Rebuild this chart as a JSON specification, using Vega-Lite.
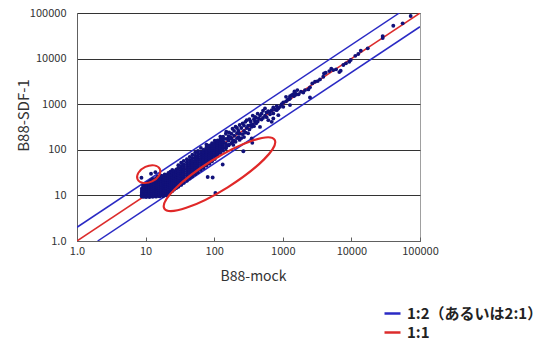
{
"$schema": "https://vega.github.io/schema/vega-lite/v6.json",
"width": 343, "height": 228,
"autosize": {"type": "none"},
"padding": {"left": 77, "top": 13, "right": 126, "bottom": 103},
"background": "white",
"config": {"view": {"stroke": "#a0a0a0", "strokeWidth": 1}, "font": "Noto Sans CJK JP"},
"datasets": {
"lines": [
{"x":1,"y":2,"line":"a","label":"1:2（あるいは2:1）"},{"x":50000,"y":100000,"line":"a","label":"1:2（あるいは2:1）"},
{"x":2,"y":1,"line":"b","label":"1:2（あるいは2:1）"},{"x":100000,"y":50000,"line":"b","label":"1:2（あるいは2:1）"},
{"x":1,"y":1,"line":"c","label":"1:1"},{"x":100000,"y":100000,"line":"c","label":"1:1"}
],
"big": [{"x":119.4,"y":29.2}],
"small": [{"x":11.1,"y":29.2}],
"pts": [
{"x":8.8,"y":9.5},{"x":8.8,"y":10.5},{"x":8.8,"y":11.5},{"x":8.8,"y":12.5},{"x":8.8,"y":14},
{"x":9.2,"y":9.3},{"x":9.2,"y":10},{"x":9.2,"y":11},{"x":9.2,"y":12},{"x":9.2,"y":13},{"x":9.2,"y":15},{"x":9.2,"y":16.5},
{"x":9.7,"y":9.4},{"x":9.7,"y":10.2},{"x":9.7,"y":11.3},{"x":9.7,"y":12.4},{"x":9.7,"y":13.6},{"x":9.7,"y":15},{"x":9.7,"y":17},
{"x":10.2,"y":9.2},{"x":10.2,"y":10},{"x":10.2,"y":10.8},{"x":10.2,"y":11.8},{"x":10.2,"y":13},{"x":10.2,"y":14.3},{"x":10.2,"y":15.8},{"x":10.2,"y":18},
{"x":10.8,"y":9.5},{"x":10.8,"y":10.4},{"x":10.8,"y":11.4},{"x":10.8,"y":12.6},{"x":10.8,"y":13.8},{"x":10.8,"y":15.2},{"x":10.8,"y":17},{"x":10.8,"y":19},
{"x":11.4,"y":9.2},{"x":11.4,"y":10.1},{"x":11.4,"y":11},{"x":11.4,"y":12},{"x":11.4,"y":13.3},{"x":11.4,"y":14.6},{"x":11.4,"y":16},{"x":11.4,"y":18},{"x":11.4,"y":20},
{"x":12,"y":9.6},{"x":12,"y":10.5},{"x":12,"y":11.6},{"x":12,"y":12.8},{"x":12,"y":14},{"x":12,"y":15.5},{"x":12,"y":17.2},{"x":12,"y":19.5},{"x":12,"y":21.5},
{"x":12.7,"y":9.3},{"x":12.7,"y":10.2},{"x":12.7,"y":11.3},{"x":12.7,"y":12.4},{"x":12.7,"y":13.7},{"x":12.7,"y":15},{"x":12.7,"y":16.6},{"x":12.7,"y":18.4},{"x":12.7,"y":20.5},{"x":12.7,"y":23},
{"x":13.4,"y":9.7},{"x":13.4,"y":10.7},{"x":13.4,"y":11.8},{"x":13.4,"y":13},{"x":13.4,"y":14.4},{"x":13.4,"y":16},{"x":13.4,"y":17.7},{"x":13.4,"y":19.7},{"x":13.4,"y":22},
{"x":14.2,"y":9.4},{"x":14.2,"y":10.3},{"x":14.2,"y":11.4},{"x":14.2,"y":12.6},{"x":14.2,"y":14},{"x":14.2,"y":15.4},{"x":14.2,"y":17},{"x":14.2,"y":19},{"x":14.2,"y":21},{"x":14.2,"y":24},
{"x":15,"y":9.8},{"x":15,"y":10.8},{"x":15,"y":12},{"x":15,"y":13.2},{"x":15,"y":14.6},{"x":15,"y":16.2},{"x":15,"y":18},{"x":15,"y":20},{"x":15,"y":22.5},{"x":15,"y":26},
{"x":16,"y":9.5},{"x":16,"y":10.5},{"x":16,"y":11.7},{"x":16,"y":13},{"x":16,"y":14.5},{"x":16,"y":16},{"x":16,"y":17.8},{"x":16,"y":19.7},{"x":16,"y":22},{"x":16,"y":25},
{"x":17,"y":10},{"x":17,"y":11.2},{"x":17,"y":12.5},{"x":17,"y":13.9},{"x":17,"y":15.4},{"x":17,"y":17},{"x":17,"y":19},{"x":17,"y":21},{"x":17,"y":23.5},{"x":17,"y":27},
{"x":18,"y":9.6},{"x":18,"y":10.8},{"x":18,"y":12},{"x":18,"y":13.5},{"x":18,"y":15},{"x":18,"y":16.8},{"x":18,"y":18.6},{"x":18,"y":20.8},{"x":18,"y":23},{"x":18,"y":26},
{"x":19,"y":10.4},{"x":19,"y":11.6},{"x":19,"y":13},{"x":19,"y":14.5},{"x":19,"y":16.2},{"x":19,"y":18},{"x":19,"y":20},{"x":19,"y":22.3},{"x":19,"y":25},{"x":19,"y":29},
{"x":20,"y":10},{"x":20,"y":11.4},{"x":20,"y":12.8},{"x":20,"y":14.3},{"x":20,"y":16},{"x":20,"y":17.8},{"x":20,"y":19.8},{"x":20,"y":22},{"x":20,"y":24.5},{"x":20,"y":28},
{"x":21.5,"y":11},{"x":21.5,"y":12.5},{"x":21.5,"y":14},{"x":21.5,"y":15.7},{"x":21.5,"y":17.5},{"x":21.5,"y":19.5},{"x":21.5,"y":21.7},{"x":21.5,"y":24},{"x":21.5,"y":27},{"x":21.5,"y":31},
{"x":23,"y":11.8},{"x":23,"y":13.3},{"x":23,"y":15},{"x":23,"y":16.8},{"x":23,"y":18.7},{"x":23,"y":20.8},{"x":23,"y":23},{"x":23,"y":25.7},{"x":23,"y":29},{"x":23,"y":33},
{"x":24.5,"y":12.5},{"x":24.5,"y":14.2},{"x":24.5,"y":16},{"x":24.5,"y":18},{"x":24.5,"y":20},{"x":24.5,"y":22.3},{"x":24.5,"y":25},{"x":24.5,"y":28},{"x":24.5,"y":31.5},{"x":24.5,"y":36},
{"x":26,"y":13.5},{"x":26,"y":15.3},{"x":26,"y":17.2},{"x":26,"y":19.3},{"x":26,"y":21.5},{"x":26,"y":24},{"x":26,"y":27},{"x":26,"y":30},{"x":26,"y":34},
{"x":28,"y":14.5},{"x":28,"y":16.5},{"x":28,"y":18.5},{"x":28,"y":20.7},{"x":28,"y":23},{"x":28,"y":25.7},{"x":28,"y":29},{"x":28,"y":32.5},{"x":28,"y":37},
{"x":30,"y":15.5},{"x":30,"y":17.7},{"x":30,"y":20},{"x":30,"y":22.4},{"x":30,"y":25},{"x":30,"y":28},{"x":30,"y":31.5},{"x":30,"y":35},{"x":30,"y":40},{"x":30,"y":46},
{"x":33,"y":17},{"x":33,"y":19.5},{"x":33,"y":22},{"x":33,"y":24.7},{"x":33,"y":27.5},{"x":33,"y":31},{"x":33,"y":35},{"x":33,"y":39},{"x":33,"y":44},{"x":33,"y":52},
{"x":36,"y":18.8},{"x":36,"y":21.5},{"x":36,"y":24.3},{"x":36,"y":27.2},{"x":36,"y":30.5},{"x":36,"y":34},{"x":36,"y":38},{"x":36,"y":43},{"x":36,"y":48},{"x":36,"y":57},
{"x":40,"y":21},{"x":40,"y":24},{"x":40,"y":27},{"x":40,"y":30},{"x":40,"y":33.5},{"x":40,"y":37.5},{"x":40,"y":42},{"x":40,"y":47},{"x":40,"y":53},{"x":40,"y":62},
{"x":44,"y":23.5},{"x":44,"y":27},{"x":44,"y":30.5},{"x":44,"y":34},{"x":44,"y":38},{"x":44,"y":42.5},{"x":44,"y":47.5},{"x":44,"y":53},{"x":44,"y":60},{"x":44,"y":70},
{"x":48,"y":26},{"x":48,"y":30},{"x":48,"y":34},{"x":48,"y":38},{"x":48,"y":42},{"x":48,"y":47},{"x":48,"y":52},{"x":48,"y":58},{"x":48,"y":66},{"x":48,"y":78},
{"x":53,"y":29},{"x":53,"y":33.5},{"x":53,"y":38},{"x":53,"y":42.5},{"x":53,"y":47},{"x":53,"y":52},{"x":53,"y":58},{"x":53,"y":65},{"x":53,"y":74},{"x":53,"y":88},
{"x":58,"y":32},{"x":58,"y":37},{"x":58,"y":42},{"x":58,"y":47},{"x":58,"y":52},{"x":58,"y":58},{"x":58,"y":64},{"x":58,"y":72},{"x":58,"y":82},{"x":58,"y":95},
{"x":64,"y":36},{"x":64,"y":41},{"x":64,"y":46.5},{"x":64,"y":52},{"x":64,"y":58},{"x":64,"y":64},{"x":64,"y":71},{"x":64,"y":80},{"x":64,"y":90},{"x":64,"y":110},
{"x":70,"y":40},{"x":70,"y":46},{"x":70,"y":52},{"x":70,"y":58},{"x":70,"y":64},{"x":70,"y":71},{"x":70,"y":79},{"x":70,"y":88},{"x":70,"y":100},
{"x":77,"y":45},{"x":77,"y":51},{"x":77,"y":57},{"x":77,"y":64},{"x":77,"y":71},{"x":77,"y":79},{"x":77,"y":88},{"x":77,"y":98},{"x":77,"y":112},{"x":77,"y":130},
{"x":85,"y":50},{"x":85,"y":57},{"x":85,"y":64},{"x":85,"y":71},{"x":85,"y":79},{"x":85,"y":88},{"x":85,"y":98},{"x":85,"y":110},{"x":85,"y":125},
{"x":93,"y":56},{"x":93,"y":64},{"x":93,"y":72},{"x":93,"y":80},{"x":93,"y":89},{"x":93,"y":99},{"x":93,"y":110},{"x":93,"y":124},{"x":93,"y":140},
{"x":102,"y":63},{"x":102,"y":72},{"x":102,"y":81},{"x":102,"y":91},{"x":102,"y":101},{"x":102,"y":112},{"x":102,"y":125},{"x":102,"y":140},{"x":102,"y":158},
{"x":112,"y":72},{"x":112,"y":82},{"x":112,"y":92},{"x":112,"y":103},{"x":112,"y":115},{"x":112,"y":128},{"x":112,"y":143},{"x":112,"y":160},
{"x":123,"y":85},{"x":123,"y":96},{"x":123,"y":108},{"x":123,"y":121},{"x":123,"y":135},{"x":123,"y":151},{"x":123,"y":170},{"x":123,"y":195},
{"x":135,"y":95},{"x":135,"y":108},{"x":135,"y":122},{"x":135,"y":137},{"x":135,"y":153},{"x":135,"y":172},{"x":135,"y":193},
{"x":148,"y":108},{"x":148,"y":138},{"x":148,"y":174},{"x":148,"y":225},
{"x":162,"y":125},{"x":162,"y":160},{"x":162,"y":200},
{"x":178,"y":140},{"x":178,"y":178},{"x":178,"y":225},
{"x":195,"y":160},{"x":195,"y":203},{"x":195,"y":260},
{"x":215,"y":180},{"x":215,"y":232},{"x":215,"y":300},
{"x":150,"y":118},{"x":150,"y":250},{"x":158,"y":175},
{"x":165,"y":130},{"x":165,"y":240},{"x":172,"y":190},
{"x":185,"y":150},{"x":185,"y":290},{"x":190,"y":128},
{"x":205,"y":150},{"x":205,"y":320},{"x":225,"y":190},{"x":225,"y":262},
{"x":235,"y":165},{"x":235,"y":225},{"x":235,"y":350},
{"x":248,"y":180},{"x":248,"y":300},
{"x":260,"y":220},{"x":260,"y":380},
{"x":272,"y":190},{"x":272,"y":260},{"x":272,"y":340},
{"x":285,"y":240},{"x":285,"y":410},
{"x":298,"y":300},{"x":298,"y":447},
{"x":312,"y":230},{"x":312,"y":340},
{"x":326,"y":280},{"x":326,"y":470},
{"x":340,"y":350},{"x":340,"y":420},
{"x":352,"y":177},{"x":352,"y":320},
{"x":365,"y":360},{"x":365,"y":560},
{"x":380,"y":330},{"x":380,"y":470},
{"x":393,"y":420},{"x":393,"y":528},
{"x":410,"y":380},{"x":410,"y":500},
{"x":430,"y":420},{"x":430,"y":620},
{"x":450,"y":480},{"x":465,"y":318},{"x":465,"y":560},
{"x":490,"y":460},{"x":490,"y":620},
{"x":515,"y":500},{"x":515,"y":720},
{"x":550,"y":560},{"x":550,"y":808},
{"x":580,"y":520},{"x":580,"y":660},
{"x":615,"y":447},{"x":615,"y":700},
{"x":651,"y":600},{"x":651,"y":680},
{"x":689,"y":410},{"x":689,"y":740},
{"x":727,"y":487},{"x":727,"y":628},{"x":727,"y":850},
{"x":770,"y":760},{"x":815,"y":741},{"x":815,"y":900},
{"x":860,"y":575},{"x":860,"y":800},
{"x":910,"y":876},{"x":960,"y":1000},{"x":1017,"y":876},{"x":1017,"y":1100},
{"x":1114,"y":1452},{"x":1114,"y":1150},{"x":1180,"y":1250},
{"x":1274,"y":955},{"x":1274,"y":1350},{"x":1274,"y":1500},
{"x":1250,"y":1300},{"x":1450,"y":1500},{"x":1560,"y":1620},{"x":1700,"y":1650},{"x":1480,"y":1900},
{"x":1350,"y":1580},{"x":1420,"y":1660},{"x":1510,"y":1780},{"x":1630,"y":2040},{"x":1840,"y":1870},{"x":1990,"y":1810},
{"x":2110,"y":2040},{"x":2360,"y":2110},{"x":2490,"y":2340},{"x":2690,"y":2860},{"x":2950,"y":3100},{"x":3230,"y":3210},
{"x":3480,"y":3500},{"x":3890,"y":3990},{"x":3990,"y":4740},{"x":4220,"y":4890},{"x":4760,"y":5330},{"x":5090,"y":5980},
{"x":5450,"y":5600},{"x":5970,"y":5810},{"x":6660,"y":5060},{"x":6980,"y":5410},{"x":7620,"y":7220},{"x":8340,"y":7870},
{"x":9310,"y":8530},{"x":9770,"y":9290},{"x":11400,"y":11500},{"x":12600,"y":12600},{"x":13700,"y":14900},{"x":17300,"y":16800},
{"x":28600,"y":31200},{"x":28600,"y":28200},{"x":40800,"y":52600},{"x":55900,"y":59400},{"x":73100,"y":85900},{"x":2490,"y":1410},
{"x":8.7,"y":24.4},{"x":12,"y":29.9},{"x":13.9,"y":32.3},
{"x":80.4,"y":25.4},{"x":95,"y":24.7},{"x":104,"y":11.3},{"x":133,"y":47.6},{"x":266,"y":93},{"x":359,"y":142}
]
},
"encoding": {
"x": {"field": "x", "type": "quantitative",
 "scale": {"type": "log", "domain": [1, 100000], "nice": false},
 "axis": {"values": [1,10,100,1000,10000,100000], "labelExpr": "datum.value == 1 ? '1.0' : format(datum.value, 'd')",
  "grid": false, "domainColor": "#606060", "tickColor": "#606060", "tickSize": -4, "labelPadding": 8,
  "labelFontSize": 11, "labelColor": "#333333", "labelFlush": false, "title": "B88-mock", "titleFontSize": 14,
  "titleFontWeight": "normal", "titleColor": "#333333", "titleX": 176, "titleY": 35, "titleBaseline": "middle", "titleAlign": "center"}},
"y": {"field": "y", "type": "quantitative",
 "scale": {"type": "log", "domain": [1, 100000], "nice": false},
 "axis": {"values": [1,10,100,1000,10000,100000], "labelExpr": "datum.value == 1 ? '1.0' : format(datum.value, 'd')",
  "grid": true, "gridColor": "#333333", "gridWidth": 1, "gridOpacity": 1, "domainColor": "#606060", "ticks": false, "labelPadding": 11,
  "labelFontSize": 11, "labelColor": "#333333", "labelFlush": false, "title": "B88-SDF-1", "titleFontSize": 15,
  "titleFontWeight": "normal", "titleColor": "#333333", "titleX": -54, "titleY": 102, "titleAngle": -90, "titleAlign": "center", "titleBaseline": "middle"}}
},
"layer": [
{"data": {"name": "lines"}, "mark": {"type": "line", "strokeWidth": 1.5, "clip": true},
 "encoding": {
  "color": {"field": "label", "type": "nominal",
   "scale": {"domain": ["1:2（あるいは2:1）", "1:1"], "range": ["#2a2ac4", "#dc2c2c"]},
   "legend": {"orient": "none", "legendX": 306, "legendY": 291, "title": null, "symbolType": "stroke", "symbolSize": 256,
    "symbolStrokeWidth": 2.5, "labelFontSize": 15, "labelFont": "Noto Sans CJK JP", "labelFontWeight": "bold", "labelColor": "#222222",
    "rowPadding": 1, "labelOffset": 5, "padding": 0}},
  "detail": {"field": "line"}}},
{"data": {"name": "pts"}, "mark": {"type": "point", "filled": true, "size": 15, "color": "#11117a", "opacity": 1}},
{"data": {"name": "big"}, "mark": {"type": "point", "shape": "M65,0C65,8.56,35.9,15.5,0,15.5C-35.9,15.5,-65,8.56,-65,0C-65,-8.56,-35.9,-15.5,0,-15.5C35.9,-15.5,65,-8.56,65,0Z", "size": 4, "filled": false, "stroke": "#e02828", "strokeWidth": 2.2, "angle": -32, "opacity": 1}},
{"data": {"name": "small"}, "mark": {"type": "point", "shape": "M12.3,0C12.3,4.42,6.79,8,0,8C-6.79,8,-12.3,4.42,-12.3,0C-12.3,-4.42,-6.79,-8,0,-8C6.79,-8,12.3,-4.42,12.3,0Z", "size": 4, "filled": false, "stroke": "#e02828", "strokeWidth": 2, "angle": -25, "opacity": 1}}
]
}
